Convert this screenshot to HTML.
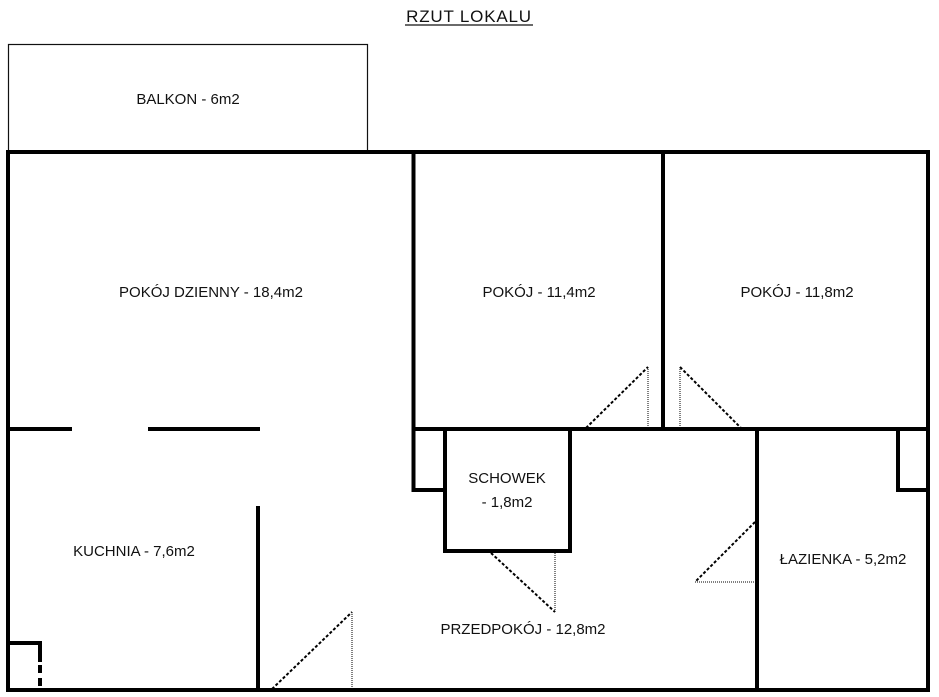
<!DOCTYPE html>
<html><head><meta charset="utf-8"><style>
html,body{margin:0;padding:0;background:#fff;}
svg{display:block;}
text{font-family:"Liberation Sans",sans-serif;font-size:15px;fill:#111;}
</style></head><body>
<svg width="939" height="697" viewBox="0 0 939 697" xmlns="http://www.w3.org/2000/svg">
<text x="469" y="22" text-anchor="middle" style="font-size:17px;letter-spacing:0.8px">RZUT LOKALU</text>
<line x1="405" y1="25" x2="533" y2="25" stroke="#111" stroke-width="1.2"/>
<rect x="8.5" y="44.5" width="359" height="107" fill="none" stroke="#111" stroke-width="1.2"/>
<text x="188" y="104" text-anchor="middle">BALKON - 6m2</text>
<g stroke="#000" stroke-width="4" fill="none" stroke-linecap="square">
<rect x="8" y="152" width="920" height="538"/>
<line x1="413.5" y1="152" x2="413.5" y2="490"/>
<line x1="413.5" y1="490" x2="443" y2="490"/>
<line x1="663" y1="152" x2="663" y2="429"/>
<line x1="8" y1="429" x2="70" y2="429"/>
<line x1="150" y1="429" x2="258" y2="429"/>
<line x1="413.5" y1="429" x2="928" y2="429"/>
<rect x="445" y="429" width="125" height="122"/>
<line x1="757" y1="429" x2="757" y2="690"/>
<line x1="898" y1="429" x2="898" y2="490"/>
<line x1="898" y1="490" x2="928" y2="490"/>
<line x1="258" y1="508" x2="258" y2="690"/>
<line x1="8" y1="643" x2="40" y2="643"/>
<line x1="40" y1="643" x2="40" y2="660"/>
</g>
<line x1="40" y1="665" x2="40" y2="690" stroke="#000" stroke-width="4" stroke-dasharray="8,5"/>
<g stroke="#000" fill="none">
<line x1="586" y1="428" x2="648" y2="367" stroke-width="2" stroke-dasharray="3,2"/>
<line x1="648" y1="367" x2="648" y2="428" stroke-width="1" stroke-dasharray="1,1"/>
<line x1="680" y1="367" x2="741" y2="428" stroke-width="2" stroke-dasharray="3,2"/>
<line x1="680" y1="367" x2="680" y2="428" stroke-width="1" stroke-dasharray="1,1"/>
<line x1="491" y1="553" x2="555" y2="612" stroke-width="2" stroke-dasharray="3,2"/>
<line x1="555" y1="553" x2="555" y2="612" stroke-width="1" stroke-dasharray="1,1"/>
<line x1="755" y1="522" x2="695" y2="582" stroke-width="2" stroke-dasharray="3,2"/>
<line x1="695" y1="582" x2="755" y2="582" stroke-width="1" stroke-dasharray="1,1"/>
<line x1="272" y1="689" x2="352" y2="612" stroke-width="2" stroke-dasharray="3,2"/>
<line x1="352" y1="612" x2="352" y2="689" stroke-width="1" stroke-dasharray="1,1"/>
</g>
<text x="211" y="297" text-anchor="middle">POKÓJ DZIENNY - 18,4m2</text>
<text x="539" y="297" text-anchor="middle">POKÓJ - 11,4m2</text>
<text x="797" y="297" text-anchor="middle">POKÓJ - 11,8m2</text>
<text x="507" y="483" text-anchor="middle">SCHOWEK</text>
<text x="507" y="507" text-anchor="middle">- 1,8m2</text>
<text x="134" y="556" text-anchor="middle">KUCHNIA - 7,6m2</text>
<text x="843" y="564" text-anchor="middle">ŁAZIENKA - 5,2m2</text>
<text x="523" y="634" text-anchor="middle">PRZEDPOKÓJ - 12,8m2</text>
</svg>
</body></html>
